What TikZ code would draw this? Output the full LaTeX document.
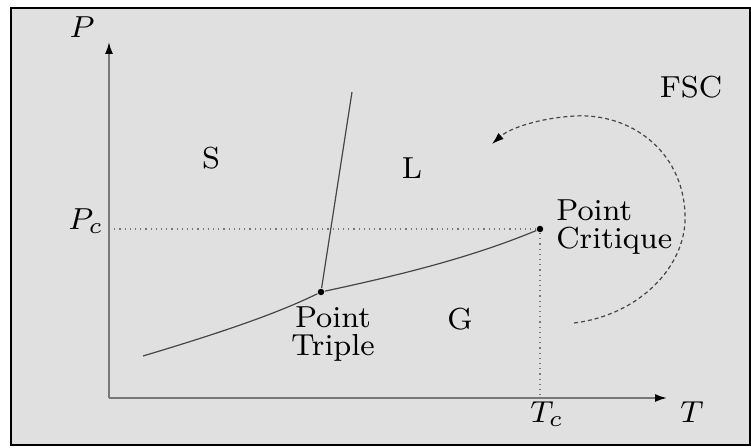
\documentclass[tikz,border=0pt]{standalone}
\usepackage{amsmath,amssymb}
\usetikzlibrary{arrows,arrows.meta}
\definecolor{panelgray}{RGB}{224,224,224}
\definecolor{axisgray}{RGB}{120,120,120}
\definecolor{curvegray}{RGB}{70,70,70}

\begin{document}
\begin{tikzpicture}[x=0.5pt,y=-0.5pt,
  every node/.style={scale=1.9,font=\fontsize{8}{7.5}\selectfont},
  dot/.style={circle,fill=black,inner sep=0pt,minimum size=1.7pt},
  axis/.style={draw=axisgray,line width=0.9pt},
  curve/.style={draw=curvegray,line width=0.6pt},
  guide/.style={draw=axisgray,line width=0.6pt,dotted},
  flow/.style={draw=curvegray,line width=0.6pt,dash pattern=on 2pt off 1.5pt}]
\useasboundingbox (0,0) rectangle (751,448);
\fill[white] (0,0) rectangle (751,448);
\draw[line width=1.2pt,fill=panelgray] (11,8) rectangle (750,445);

\coordinate (O) at (109,398);
\coordinate (Ptop) at (109,42);
\coordinate (Tend) at (667,398);

\node[dot] (TP) at (321,292) {};
\node[dot] (CP) at (540,229) {};

\coordinate (SL) at (352,92);
\coordinate (SG) at (143,356);
\coordinate (PcA) at (109,229);
\coordinate (TcA) at (540,398);
\coordinate (ArcS) at (574,323);
\coordinate (ArcE) at (492,144);

% axes
\draw[axis, -{Latex[black,length=6pt,width=4pt]}] (O) -- (Ptop);
\draw[axis, -{Latex[black,length=6pt,width=4pt]}] (O) -- (Tend);

% equilibrium curves
\draw[curve] (SG) .. controls (230,330) and (280,312) .. (TP);
\draw[curve] (TP) .. controls (400,275) and (470,258) .. (CP);
\draw[curve] (TP) -- (SL);

\draw[guide] (PcA) -- (CP);
\draw[guide] (CP) -- (TcA);

\draw[flow, -{Latex[black,length=6pt,width=4pt]}] (ArcS) .. controls (640,315) and (688,265) .. (685,213)
  .. controls (682,150) and (630,113) .. (575,116)
  .. controls (540,118) and (510,128) .. (ArcE);

\node (Plab) at (82,27) {$P$};
\node (Tlab) at (692,412) {$T$};
\node (Pclab) at (86,221) {$P_c$};
\node (Tclab) at (547,414) {$T_c$};

\node (Slab) at (211,158) {S};
\node (Llab) at (412,168) {L};
\node (Glab) at (460,319) {G};
\node (FSClab) at (691,87) {FSC};

\node[align=center] (TPlab) at (333,334) {Point\\Triple};
\node[align=left,anchor=west] (CPlab) at (543,227) {Point\\Critique};
\end{tikzpicture}
\end{document}
